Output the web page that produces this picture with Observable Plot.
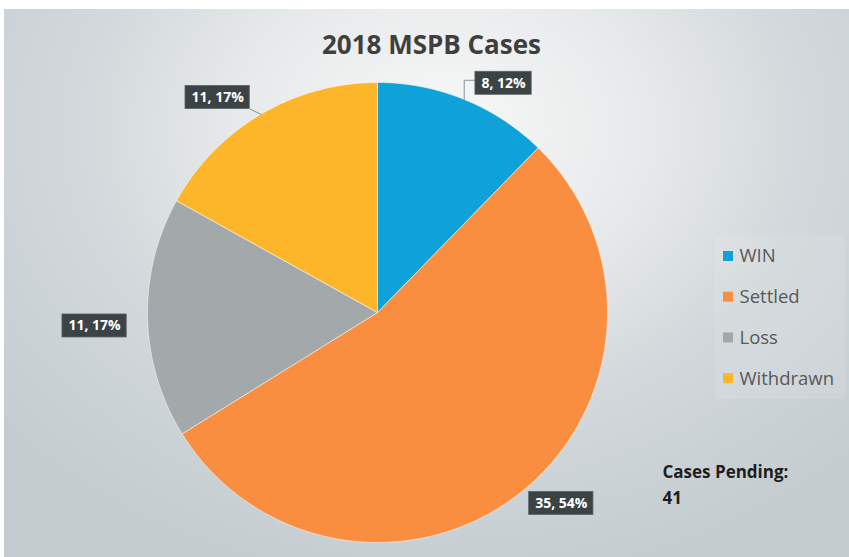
<!DOCTYPE html>
<html><head><meta charset="utf-8">
<script src="https://cdn.jsdelivr.net/npm/d3@7"></script>
<script src="https://cdn.jsdelivr.net/npm/@observablehq/plot@0.6"></script>
<style>
body{margin:0;background:#fff;}
#wrap{position:relative;width:849px;height:557px;overflow:hidden;}
#bg{position:absolute;left:4px;top:9px;right:0;bottom:0;
 background:radial-gradient(ellipse 70% 85% at 52% 22%, #f8f8f8 0%, #e6e9ea 36%, #d2d8db 62%, #c4ccd0 100%);}
#chart{position:absolute;left:0;top:0;}
</style></head><body>
<div id="wrap"><div id="bg"></div><div id="chart"></div></div>
<script>
// ---- data ----
const categories = ["WIN", "Settled", "Loss", "Withdrawn"];
const counts = [8, 35, 11, 11];
const percentLabels = ["12%", "54%", "17%", "17%"];
const colors = ["#0ea2d9", "#f98e40", "#a3a8ab", "#fdb62a"];
const titleText = "2018 MSPB Cases";
const noteLines = ["Cases Pending:", "41"];

// ---- layout ----
const W = 849, H = 557;
const cx = 377, cy = 312, R = 230, labelR = 268;
const labelNudge = [[25, 19], [16, -18], [-15, 7], [-24, 16]];
const leaderType = ["elbow", null, null, "straight"];
const labelFont = "bold 14px 'Open Sans'";
const legendX = 723, legendY0 = 256, legendStep = 40.7, sq = 10;

const pt = (a, r) => ({x: cx + r * Math.sin(a), y: cy - r * Math.cos(a)});
const arcs = d3.pie().sort(null).value(d => d)(counts);

// slice polygons
const slicePts = [];
arcs.forEach((a, i) => {
  const cat = categories[i];
  slicePts.push({cat, x: cx, y: cy});
  const n = Math.max(2, Math.ceil((a.endAngle - a.startAngle) / 0.005));
  for (let k = 0; k <= n; k++) {
    const p = pt(a.startAngle + (a.endAngle - a.startAngle) * k / n, R);
    slicePts.push({cat, ...p});
  }
  slicePts.push({cat, x: cx, y: cy});
});

// labels
const ctx = document.createElement("canvas").getContext("2d");
ctx.font = labelFont;
const labels = arcs.map((a, i) => {
  const mid = (a.startAngle + a.endAngle) / 2;
  const p = pt(mid, labelR);
  const text = `${counts[i]}, ${percentLabels[i]}`;
  const w = ctx.measureText(text).width + 12;
  const h = 23;
  const x = p.x + labelNudge[i][0], y = p.y + labelNudge[i][1];
  return {text, x, y, x1: x - w / 2, x2: x + w / 2, y1: y - h / 2, y2: y + h / 2, mid, i};
});

// leader lines
const leaders = [];
labels.forEach(l => {
  const t = leaderType[l.i];
  if (!t) return;
  const s = pt(l.mid, R);
  if (t === "elbow") {
    leaders.push({g: l.i, x: s.x, y: s.y}, {g: l.i, x: s.x, y: l.y - 3}, {g: l.i, x: l.x1, y: l.y - 3});
  } else {
    leaders.push({g: l.i, x: s.x, y: s.y}, {g: l.i, x: l.x2, y: l.y2});
  }
});

const legend = categories.map((c, i) => ({cat: c, y: legendY0 + i * legendStep}));

const chart = Plot.plot({
  width: W, height: H,
  margin: 0,
  x: {type: "identity", axis: null},
  y: {type: "identity", axis: null},
  color: {domain: categories, range: colors},
  style: {background: "transparent", overflow: "visible"},
  marks: [
    // legend panel
    Plot.rect([0], {x1: 715, x2: 845, y1: 236, y2: 399, fill: "white", fillOpacity: 0.1}),
    Plot.line(slicePts, {x: "x", y: "y", z: "cat", fill: "cat", stroke: "#ffffff", strokeOpacity: 0.5, strokeWidth: 1}),
    Plot.line(leaders, {x: "x", y: "y", z: "g", stroke: "#8c9396", strokeWidth: 1}),
    Plot.rect(labels, {x1: "x1", x2: "x2", y1: "y1", y2: "y2", fill: "#3b4345", stroke: "#5a6264", strokeWidth: 0.8}),
    Plot.text(labels, {x: "x", y: "y", text: "text", fill: "#ffffff", fontSize: 14, fontWeight: "bold", fontFamily: "Open Sans"}),
    Plot.text([titleText], {x: 431, y: 45, text: d => d, fontSize: 26, fontWeight: "bold", fill: "#3f3f3f", fontFamily: "Open Sans"}),
    Plot.rect(legend, {x1: legendX, x2: legendX + sq, y1: d => d.y - sq / 2, y2: d => d.y + sq / 2, fill: "cat"}),
    Plot.text(legend, {x: legendX + sq + 6, y: "y", text: "cat", textAnchor: "start", fontSize: 18.5, fill: "#595959", fontFamily: "Open Sans"}),
    Plot.text(noteLines, {x: 662, y: (d, i) => 472 + i * 26, text: d => d, textAnchor: "start", fontSize: 17, fontWeight: "bold", fill: "#1e1e1e", fontFamily: "Open Sans"})
  ]
});
document.getElementById("chart").appendChild(chart);
</script>
</body></html>
